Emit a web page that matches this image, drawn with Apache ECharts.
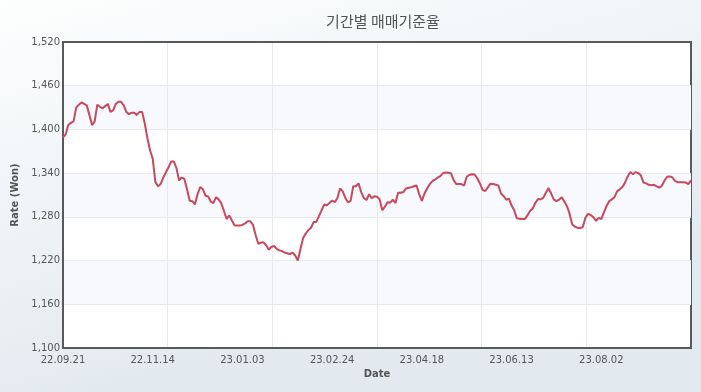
<!DOCTYPE html>
<html><head><meta charset="utf-8">
<script src="https://cdn.jsdelivr.net/npm/echarts@6/dist/echarts.min.js"></script>
<style>html,body{margin:0;padding:0;background:#fff;} #c{width:701px;height:392px;}</style>
</head><body><div id="c"></div>
<script>
const titleText = '기간별 매매기준율';
const yAxisName = 'Rate (Won)';
const xAxisName = 'Date';
const tickLabels = ['22.09.21','22.11.14','23.01.03','23.02.24','23.04.18','23.06.13','23.08.02'];
const rates = [
1389,1393,1406,1409,1411,1430,1434,1437,1435,1433,
1420,1406,1411,1434,1431,1429,1432,1435,1424,1426,
1435,1438,1438,1433,1424,1421,1423,1423,1420,1424,
1424,1408,1388,1371,1360,1328,1322,1325,1334,1341,
1348,1356,1356,1347,1330,1334,1332,
1318,1302,1301.5,1297,1311,1321,1318,1309,1308,1301,
1299,1307,1304,1298.5,1288,1277,1282,1275,1268.5,1268,
1268,1269,1271,1274,1274,1269,1255,1243,1244.5,1245,
1241,1235,1239,1240,1236,1234,1233,1231,1230,1229,
1231,1227,1220,1236,1251,1257,1262,1265,1273,
1273,1281,1289,1297,1296,1299,1302.5,1300,1306,1319,
1315,1306,1300,1302,1322,1322,1326,1314,1306,1303,
1311,1305.5,1308.4,1307.5,1304,1289,1294,1300,1299.5,1303.5,
1299,1313,1313,1314,1319,1320,1320.5,1322,1323,1311,
1302,1312,1319,1325,1329,1331,1334,1336,
1340,1341,1340.5,1340,1331,1325,1325,1325,1323,1335,
1337.5,1338.5,1338,1333,1326,1317,1315.5,1320.5,1325.5,1325,
1324,1323,1312,1308.4,1303.5,1305,1295.5,1289,1278,1277.5,
1277,1277,1282,1288,1291.5,1299,1304.5,1304,1306,1313,
1319.5,1312,1304,1301.5,1303.5,1307,1301,
1294.5,1284,1269.5,1266.5,1265,1264.5,1266,1279,1284,1282.5,
1279.5,1274.5,1278.5,1277,1286,1295,1301.5,1304,1307,1315,
1318,1321,1327,1335.5,1341.5,1338.5,1341.5,1340,1337,1327,
1326,1324,1323.5,1324,1322,1320,1323,1330,1335,1335.5,
1334,1329,1327.5,1327.5,1327.5,1327,1325,1330
];
const yMin = 1100, yMax = 1520, yStep = 60;
const labelStep = 34;
const gridDivisions = 6;

const chart = echarts.init(document.getElementById('c'), null, {renderer: 'canvas'});
const fmtNum = v => String(v).replace(/\B(?=(\d{3})+(?!\d))/g, ',');
const labelFont = {color: '#555', fontFamily: 'DejaVu Sans', fontSize: 10};
const borderLine = {show: true, lineStyle: {color: '#595959', width: 2}};
chart.setOption({
  animation: false,
  backgroundColor: {type: 'linear', x: 0, y: 0, x2: 0.15, y2: 1, colorStops: [
    {offset: 0, color: '#fdfefe'}, {offset: 1, color: '#e3eaef'}]},
  title: {
    text: titleText, left: 378, top: 9, textAlign: 'center',
    textStyle: {color: '#555', fontSize: 15, fontWeight: 'normal', fontFamily: 'Noto Sans CJK KR'}
  },
  grid: {left: 63, right: 10, top: 42, bottom: 44, show: true, backgroundColor: '#fff',
    borderColor: '#595959', borderWidth: 2, containLabel: false},
  xAxis: [{
    type: 'value', min: 0, max: rates.length - 1, interval: labelStep,
    name: xAxisName, nameLocation: 'middle', nameGap: 21,
    nameTextStyle: {color: '#555', fontFamily: 'DejaVu Sans', fontSize: 10, fontWeight: 'bold'},
    axisLine: borderLine, axisTick: {show: false}, splitLine: {show: false},
    axisLabel: Object.assign({margin: 7, showMaxLabel: false,
      formatter: v => tickLabels[Math.round(v / labelStep)] || ''}, labelFont)
  }, {
    type: 'value', min: 0, max: gridDivisions, interval: 1, position: 'top',
    axisLine: borderLine, axisTick: {show: false}, axisLabel: {show: false},
    splitLine: {show: true, showMinLine: false, showMaxLine: false, lineStyle: {color: '#e6e9ee', width: 1}}
  }],
  yAxis: [{
    type: 'value', min: yMin, max: yMax, interval: yStep,
    name: yAxisName, nameLocation: 'middle', nameGap: 36, nameRotate: 90,
    nameTextStyle: {color: '#555', fontFamily: 'DejaVu Sans', fontSize: 10, fontWeight: 'bold'},
    axisLine: borderLine, axisTick: {show: false},
    splitLine: {show: true, showMinLine: false, showMaxLine: false, lineStyle: {color: '#e6e9ee', width: 1}},
    splitArea: {show: true, areaStyle: {color: ['rgba(255,255,255,0)', '#f7f9fc']}},
    axisLabel: Object.assign({margin: 3, formatter: v => fmtNum(v)}, labelFont)
  }, {
    type: 'value', min: yMin, max: yMax, interval: yStep, position: 'right',
    axisLine: borderLine, axisTick: {show: false}, axisLabel: {show: false}, splitLine: {show: false}
  }],
  series: [{
    type: 'line', xAxisIndex: 0, yAxisIndex: 0, showSymbol: false, smooth: false,
    data: rates.map((v, i) => [i, v]),
    lineStyle: {color: '#c9485b', width: 2}, itemStyle: {color: '#c9485b'}
  }]
});
</script>
</body></html>
